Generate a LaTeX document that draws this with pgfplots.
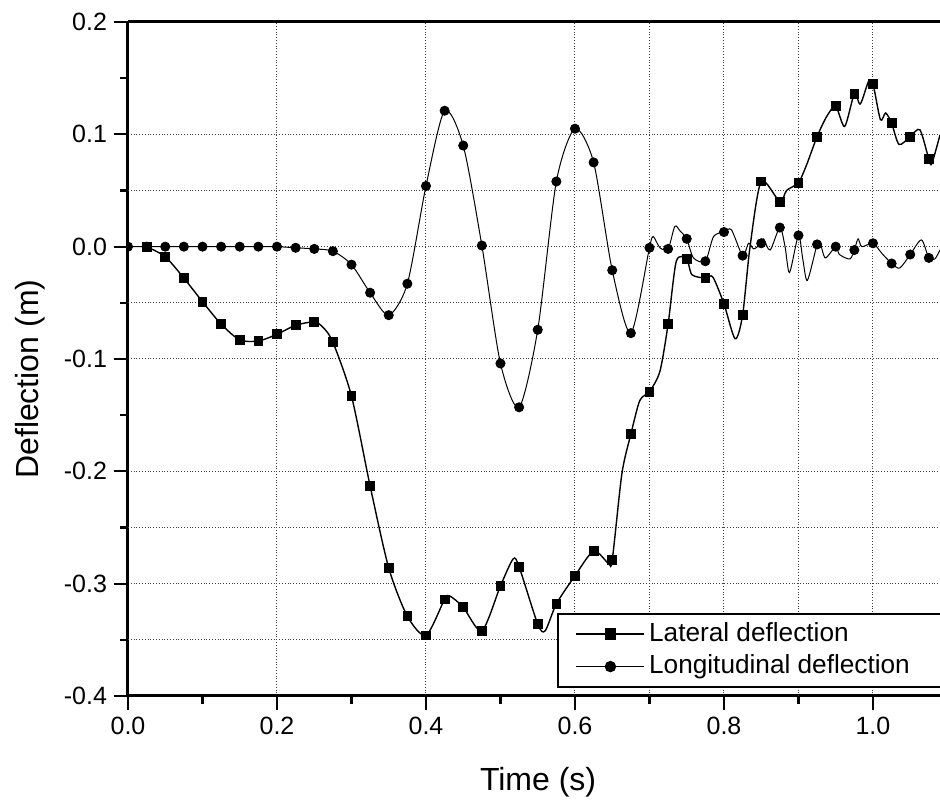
\documentclass[border=0pt]{standalone}
\usepackage{fontspec}
\setmainfont{Liberation Sans}
\usepackage{pgfplots}
\pgfplotsset{compat=1.18}

\begin{document}
\begin{tikzpicture}
\begin{axis}[
  name=ax,
  scale only axis,
  width=406pt, height=337pt,
  xmin=0, xmax=1.09, ymin=-0.4, ymax=0.2,
  axis x line=box, axis y line=left,
  y axis line style={-},
  axis line style={line width=1.5pt},
  xtick={0,0.2,0.4,0.6,0.8,1.0},
  minor xtick={0.1,0.3,0.5,0.7,0.9},
  ytick={-0.4,-0.3,-0.2,-0.1,0,0.1,0.2},
  minor ytick={-0.35,-0.25,-0.15,-0.05,0.05,0.15},
  xtick pos=left, ytick pos=left,
  tick align=outside,
  major tick length=7pt, minor tick length=4pt,
  every tick/.style={line width=1.1pt, black},
  xmajorgrids, ymajorgrids,
  grid style={densely dotted, line width=0.5pt, black!75},
  extra x ticks={0.7,0.9}, extra x tick labels={},
  extra x tick style={grid=major, tick style={draw=none}},
  extra y ticks={-0.35,-0.25,-0.05,0.05}, extra y tick labels={},
  extra y tick style={grid=major, tick style={draw=none}},
  tick label style={font=\fontsize{12.5}{14}\selectfont},
  /pgf/number format/.cd, fixed, fixed zerofill, precision=1, assume math mode=true,
  /pgfplots/.cd,
  xlabel={Time (s)},
  ylabel={Deflection (m)},
  xlabel style={at={(axis description cs:0.505,-0.128)}, anchor=center,
                font=\fontsize{16}{19}\selectfont},
  ylabel style={at={(axis description cs:-0.121,0.47)}, anchor=center,
                font=\fontsize{16}{19}\selectfont},
  clip marker paths=true,
  legend cell align=left,
  legend style={at={(axis description cs:0.528,0.012)}, anchor=south west,
                draw=black, line width=1pt, inner xsep=9pt, inner ysep=2pt,
                font=\fontsize{13.1}{15}\selectfont,
                nodes={text height=9.7pt, text depth=2.6pt}},
  legend image code/.code={
    \draw[mark repeat=2, mark phase=2, #1]
      plot coordinates {(0pt,0pt) (17pt,0pt) (34pt,0pt)};},
]
% lateral deflection: curve
\addplot[black, line width=0.7pt, smooth, tension=0.45, forget plot] coordinates {
(0.025,0) (0.05,-0.009) (0.075,-0.028) (0.1,-0.049) (0.125,-0.069)
(0.15,-0.083) (0.175,-0.084) (0.2,-0.078) (0.225,-0.070) (0.25,-0.067)
(0.262,-0.072) (0.275,-0.085) (0.3,-0.133) (0.325,-0.213) (0.35,-0.286)
(0.375,-0.329) (0.4,-0.346) (0.425,-0.314) (0.432,-0.311) (0.45,-0.321)
(0.475,-0.342) (0.5,-0.302) (0.517,-0.278) (0.525,-0.285) (0.55,-0.336)
(0.56,-0.342) (0.575,-0.318) (0.6,-0.293) (0.625,-0.271) (0.645,-0.282)
(0.65,-0.279) (0.663,-0.202) (0.675,-0.167) (0.687,-0.137) (0.7,-0.129)
(0.714,-0.111) (0.725,-0.069) (0.736,-0.013) (0.75,-0.011) (0.757,-0.025)
(0.775,-0.028) (0.785,-0.027) (0.8,-0.051) (0.815,-0.082) (0.825,-0.061)
(0.835,0.0) (0.85,0.058) (0.875,0.040) (0.884,0.050) (0.9,0.057)
(0.911,0.073) (0.925,0.098) (0.938,0.116) (0.95,0.125) (0.962,0.107)
(0.975,0.136) (0.983,0.127) (0.994,0.147) (1.0,0.145) (1.010,0.113)
(1.017,0.119) (1.025,0.110) (1.035,0.091) (1.05,0.098) (1.063,0.104)
(1.075,0.078) (1.079,0.074) (1.09,0.0995)
};
% lateral deflection: markers
\addplot[only marks, mark=square*, mark size=2.2pt, black, forget plot] coordinates {
(0.025,0) (0.05,-0.009) (0.075,-0.028) (0.1,-0.049) (0.125,-0.069)
(0.15,-0.083) (0.175,-0.084) (0.2,-0.078) (0.225,-0.070) (0.25,-0.067)
(0.275,-0.085) (0.3,-0.133) (0.325,-0.213) (0.35,-0.286) (0.375,-0.329)
(0.4,-0.346) (0.425,-0.314) (0.45,-0.321) (0.475,-0.342) (0.5,-0.302)
(0.525,-0.285) (0.55,-0.336) (0.575,-0.318) (0.6,-0.293) (0.625,-0.271)
(0.65,-0.279) (0.675,-0.167) (0.7,-0.129) (0.725,-0.069) (0.75,-0.011)
(0.775,-0.028) (0.8,-0.051) (0.825,-0.061) (0.85,0.058) (0.875,0.040)
(0.9,0.057) (0.925,0.098) (0.95,0.125) (0.975,0.136) (1.0,0.145)
(1.025,0.110) (1.05,0.098) (1.075,0.078)
};
% longitudinal deflection: curve
\addplot[black, line width=0.5pt, smooth, tension=0.45, forget plot] coordinates {
(0,0) (0.025,0) (0.05,0) (0.075,0) (0.1,0) (0.125,0) (0.15,0) (0.175,0)
(0.2,0) (0.225,-0.001) (0.25,-0.002) (0.275,-0.004) (0.3,-0.016)
(0.325,-0.041) (0.35,-0.061) (0.375,-0.033) (0.4,0.054) (0.425,0.121)
(0.45,0.090) (0.475,0.001) (0.5,-0.104) (0.525,-0.143) (0.55,-0.074)
(0.575,0.058) (0.6,0.105) (0.625,0.075) (0.65,-0.021) (0.675,-0.077)
(0.7,-0.001) (0.705,0.009) (0.714,-0.001) (0.725,-0.002) (0.734,0.018)
(0.741,0.014) (0.75,0.007) (0.759,-0.010) (0.775,-0.013) (0.786,0.009)
(0.8,0.013) (0.81,0.015) (0.825,-0.008) (0.833,0.003) (0.84,-0.002)
(0.85,0.003) (0.853,0.007) (0.862,-0.003) (0.875,0.017) (0.882,0.0)
(0.888,-0.023) (0.9,0.010) (0.906,-0.012) (0.912,-0.030) (0.925,0.002)
(0.929,0.004) (0.936,-0.010) (0.95,0.0) (0.955,-0.007) (0.969,-0.011)
(0.975,-0.003) (0.980,0.007) (0.985,0.0) (1.0,0.003) (1.012,-0.006)
(1.025,-0.015) (1.036,-0.019) (1.05,-0.007) (1.065,0.006) (1.075,-0.010)
(1.083,-0.011) (1.09,-0.003)
};
% longitudinal deflection: markers
\addplot[only marks, mark=*, mark size=2.3pt, black, forget plot] coordinates {
(0,0) (0.025,0) (0.05,0) (0.075,0) (0.1,0) (0.125,0) (0.15,0) (0.175,0)
(0.2,0) (0.225,-0.001) (0.25,-0.002) (0.275,-0.004) (0.3,-0.016)
(0.325,-0.041) (0.35,-0.061) (0.375,-0.033) (0.4,0.054) (0.425,0.121)
(0.45,0.090) (0.475,0.001) (0.5,-0.104) (0.525,-0.143) (0.55,-0.074)
(0.575,0.058) (0.6,0.105) (0.625,0.075) (0.65,-0.021) (0.675,-0.077)
(0.7,-0.001) (0.725,-0.002) (0.75,0.007) (0.775,-0.013) (0.8,0.013)
(0.825,-0.008) (0.85,0.003) (0.875,0.017) (0.9,0.010) (0.925,0.002)
(0.95,0.0) (0.975,-0.003) (1.0,0.003) (1.025,-0.015) (1.05,-0.007)
(1.075,-0.010)
};
\addlegendimage{black, line width=0.7pt, mark=square*, mark size=2.5pt}
\addlegendentry{Lateral deflection}
\addlegendimage{black, line width=0.5pt, mark=*, mark size=2.6pt}
\addlegendentry{\makebox[170pt][l]{Longitudinal deflection}}
\end{axis}
\pgfresetboundingbox
\path ([shift={(-64pt,-54pt)}]ax.south west) rectangle ([yshift=11pt]ax.north east);
\end{tikzpicture}
\end{document}
